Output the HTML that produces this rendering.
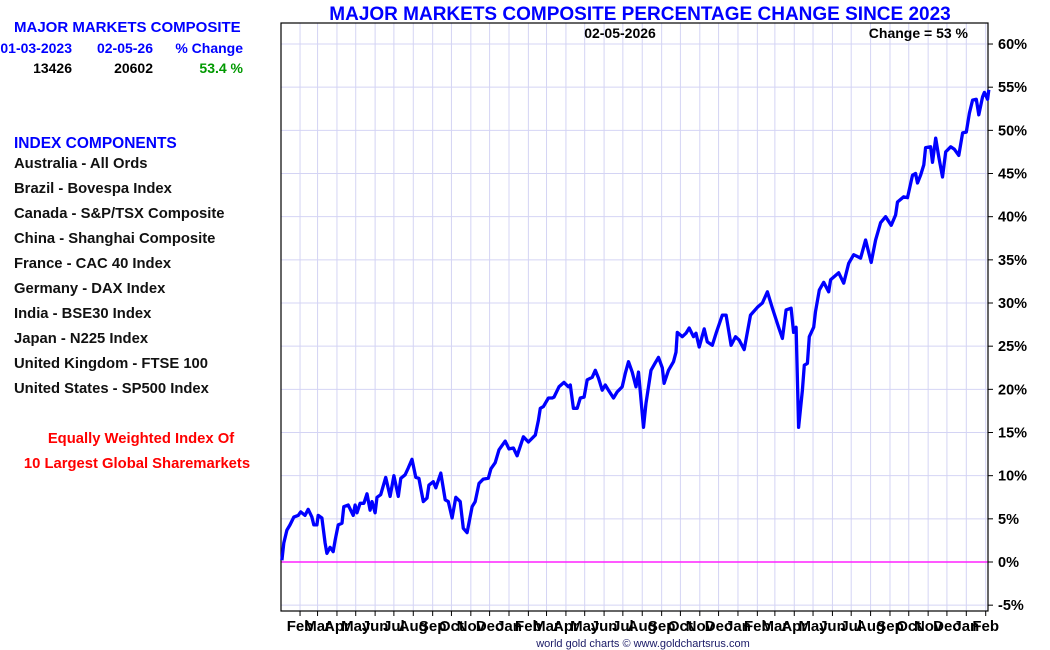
<!DOCTYPE html>
<html><head><meta charset="utf-8"><style>
html,body{margin:0;padding:0;background:#fff;}
svg{display:block;font-family:"Liberation Sans",Arial,sans-serif;font-weight:bold;}
</style></head><body>
<svg id="chart" width="1050" height="650" viewBox="0 0 1050 650" xmlns="http://www.w3.org/2000/svg">
<rect width="1050" height="650" fill="#fff"/>
<text x="640" y="20" text-anchor="middle" font-size="19" fill="#0000ff">MAJOR MARKETS COMPOSITE PERCENTAGE CHANGE SINCE 2023</text>
<g font-size="14">
<text x="14" y="32" font-size="15" fill="#0000ff">MAJOR MARKETS COMPOSITE</text>
<text x="72" y="53" text-anchor="end" fill="#0000ff">01-03-2023</text>
<text x="153" y="53" text-anchor="end" fill="#0000ff">02-05-26</text>
<text x="243" y="53" text-anchor="end" fill="#0000ff">% Change</text>
<text x="72" y="73" text-anchor="end" fill="#000">13426</text>
<text x="153" y="73" text-anchor="end" fill="#000">20602</text>
<text x="243" y="73" text-anchor="end" fill="#009900">53.4 %</text>
</g>
<g font-size="14.8" fill="#111">
<text x="14" y="148" fill="#0000ff" font-size="15.5">INDEX COMPONENTS</text>
<text x="14" y="168">Australia - All Ords</text>
<text x="14" y="193">Brazil - Bovespa Index</text>
<text x="14" y="218">Canada - S&amp;P/TSX Composite</text>
<text x="14" y="243">China - Shanghai Composite</text>
<text x="14" y="268">France - CAC 40 Index</text>
<text x="14" y="293">Germany - DAX Index</text>
<text x="14" y="318">India - BSE30 Index</text>
<text x="14" y="343">Japan - N225 Index</text>
<text x="14" y="368">United Kingdom - FTSE 100</text>
<text x="14" y="393">United States - SP500 Index</text>
<text x="141" y="443" text-anchor="middle" fill="#ff0000">Equally Weighted Index Of</text>
<text x="137" y="468" text-anchor="middle" fill="#ff0000">10 Largest Global Sharemarkets</text>
</g>
<g id="grid"></g>
<g id="plot"></g>
<text x="620" y="38" text-anchor="middle" font-size="14" fill="#000">02-05-2026</text>
<text x="968" y="38" text-anchor="end" font-size="14" fill="#000">Change = 53 %</text>
<text x="643" y="647" text-anchor="middle" font-size="11" font-weight="normal" fill="#1a1a66">world gold charts © www.goldchartsrus.com</text>
</svg>
<script>
// days since 2023-01-03
const days = [0,3,8,13,19,26,30,37,42,48,51,56,58,64,69,72,77,82,85,90,96,99,106,114,117,120,125,131,136,141,144,149,152,158,166,173,179,186,190,197,202,208,214,219,226,232,235,242,246,254,261,266,272,278,285,290,296,304,309,315,322,330,334,341,347,357,363,370,376,386,394,405,410,413,418,426,432,435,443,451,458,461,466,472,477,483,488,496,501,506,512,517,522,530,536,544,549,554,560,566,570,578,582,590,597,602,608,611,618,626,630,632,640,646,651,658,662,667,675,680,688,694,704,710,718,725,731,739,749,760,768,776,784,794,800,806,814,818,822,826,832,835,840,843,850,853,859,866,874,877,890,898,906,914,925,933,942,949,957,965,974,981,984,994,1000,1008,1013,1016,1021,1026,1029,1037,1040,1045,1050,1056,1061,1069,1075,1082,1088,1094,1099,1104,1110,1114,1120,1123,1128,1130];
const pctChange = [0.2,2.2,3.7,4.3,5.2,5.4,5.8,5.4,6.1,5.2,4.3,4.3,5.4,5.1,2.2,1.0,1.7,1.2,2.5,4.3,4.5,6.4,6.6,5.4,6.6,5.7,6.8,6.8,7.9,6.0,7.0,5.7,7.5,7.8,9.8,7.6,10.0,7.6,9.7,10.1,10.9,11.9,9.8,9.7,7.0,7.4,8.9,9.3,8.6,10.3,7.2,7.0,5.1,7.5,7.0,3.9,3.4,6.4,7.0,9.1,9.6,9.7,10.8,11.5,13.0,14.0,13.1,13.2,12.3,14.5,13.9,14.7,16.4,17.8,18.0,19.0,19.0,19.1,20.3,20.8,20.3,20.5,17.8,17.8,19.0,19.1,21.1,21.4,22.2,21.3,19.9,20.5,19.9,19.0,19.7,20.3,21.9,23.2,22.0,20.3,22.0,15.6,18.4,22.2,23.1,23.7,22.5,20.7,22.2,23.2,24.3,26.6,26.1,26.5,27.1,26.1,26.5,24.9,27.0,25.5,25.1,26.5,28.6,28.6,25.1,26.1,25.7,24.6,28.6,29.5,30.0,31.3,29.4,27.2,25.9,29.2,29.4,26.6,27.2,15.6,19.9,22.8,23.0,26.1,27.2,29.0,31.5,32.4,31.3,32.7,33.5,32.3,34.6,35.6,35.2,37.3,34.7,37.3,39.3,40.0,39.0,40.2,41.7,42.3,42.2,44.8,45.0,43.9,44.8,46.0,48.0,48.1,46.3,49.1,46.9,44.6,47.5,48.1,47.8,47.1,49.7,49.8,52.0,53.5,53.6,51.8,53.9,54.4,53.6,54.7,53.4];
const yTicks = [-5,0,5,10,15,20,25,30,35,40,45,50,55,60];
const monthNames = ["Jan","Feb","Mar","Apr","May","Jun","Jul","Aug","Sep","Oct","Nov","Dec"];

const NS = "http://www.w3.org/2000/svg";
const L = 281, R = 988, T = 23, B = 611;
const start = Date.UTC(2023,0,3);
const xS = d => 281.9 + d * 0.6256;
const yS = p => 562 - p * 8.633;
function mk(tag, attrs, parent){ const e = document.createElementNS(NS, tag); for (const k in attrs) e.setAttribute(k, attrs[k]); parent.appendChild(e); return e; }
const grid = document.getElementById('grid');
const plot = document.getElementById('plot');

for (let y = 2023, m = 1; ; m++) {
  if (m > 11) { m = 0; y++; }
  const d = (Date.UTC(y, m, 1) - start) / 86400000;
  if (d > 1135) break;
  const x = xS(d);
  const gl = mk('line', {x1:x, x2:x, y1:T, y2:B, stroke:'#d4d4f4', 'stroke-width':1}, grid);
  
  
  const tk = mk('line', {x1:x, x2:x, y1:B, y2:B+5, stroke:'#000', 'stroke-width':1}, grid);
  
  
  const t = mk('text', {x:x, y:631, 'text-anchor':'middle', 'font-size':15, fill:'#000'}, grid);
  
  
  t.textContent = monthNames[m];
}
yTicks.forEach(p => {
  const y = yS(p);
  if (p !== 0) {
    const gl = mk('line', {x1:L, x2:R, y1:y, y2:y, stroke:'#d4d4f4', 'stroke-width':1}, grid);
    
    
  }
  const tk = mk('line', {x1:R, x2:R+5, y1:y, y2:y, stroke:'#000', 'stroke-width':1}, grid);
  
  
  const t = mk('text', {x:998, y:y+5, 'font-size':14.5, fill:'#000'}, grid);
  
  
  t.textContent = p + '%';
});
const z = mk('line', {x1:L, x2:R, y1:yS(0), y2:yS(0), stroke:'#ff22ff', 'stroke-width':1.5}, plot);


const fr = mk('rect', {x:L, y:T, width:R-L, height:B-T, fill:'none', stroke:'#000', 'stroke-width':1.2}, plot);


const pts = days.map((d, i) => xS(d).toFixed(1) + ',' + yS(pctChange[i]).toFixed(1)).join(' ');
const line = mk('polyline', {points:pts, fill:'none', stroke:'#0000ff', 'stroke-width':3.3, 'stroke-linejoin':'round'}, plot);


</script>
</body></html>
